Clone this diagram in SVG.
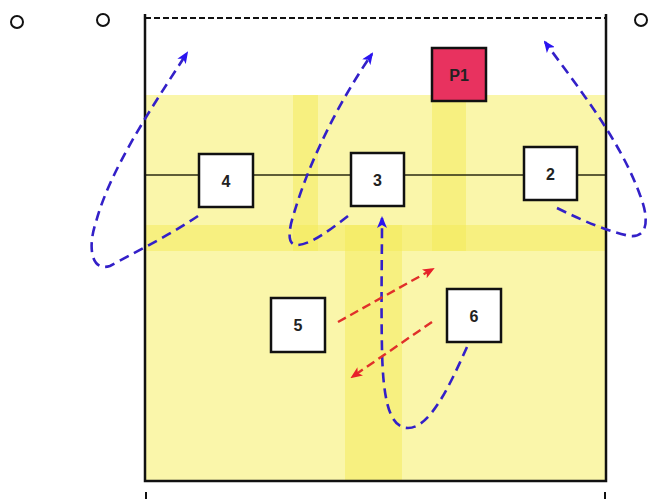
<svg xmlns="http://www.w3.org/2000/svg" width="658" height="499" viewBox="0 0 658 499">
<defs>
<style>
.node rect{fill:#fff;stroke:#111;stroke-width:2.5}
.node text{font-family:"Liberation Sans",Arial,sans-serif;font-weight:bold;font-size:16px;fill:#222;text-anchor:middle;dominant-baseline:central}
.band{fill:#F3EA55;opacity:0.5}
.blue{fill:none;stroke:#3320C8;stroke-width:2.6;stroke-dasharray:10 6}
.red{fill:none;stroke:#E0302A;stroke-width:2.4;stroke-dasharray:9 5}
.ring{fill:none;stroke:#111;stroke-width:2}
</style>
<marker id="ab" viewBox="0 0 12 10" refX="10" refY="5" markerWidth="12" markerHeight="10" markerUnits="userSpaceOnUse" orient="auto">
<path d="M0,0 L12,5 L0,10 L3,5 z" fill="#2A14F0"/>
</marker>
<marker id="ar" viewBox="0 0 12 10" refX="10" refY="5" markerWidth="12" markerHeight="10" markerUnits="userSpaceOnUse" orient="auto">
<path d="M0,0 L12,5 L0,10 L3,5 z" fill="#E8202A"/>
</marker>
</defs>
<rect width="658" height="499" fill="#fff"/>
<g id="court">
<rect x="145" y="95" width="461" height="386" fill="#FAF6AA"/>
<rect class="band" x="145" y="225" width="461" height="26"/>
<rect class="band" x="293" y="95" width="25" height="156"/>
<rect class="band" x="432" y="101" width="34" height="150"/>
<rect class="band" x="345" y="225" width="57" height="256"/>
<line x1="145" y1="175" x2="606" y2="175" stroke="#2a2a10" stroke-width="1.6"/>
<line x1="145" y1="18" x2="606" y2="18" stroke="#111" stroke-width="2" stroke-dasharray="6 3"/>
<path d="M145,14 V481 H606 V14" fill="none" stroke="#111" stroke-width="2.5"/>
<line x1="146" y1="492" x2="146" y2="499" stroke="#111" stroke-width="2"/>
<line x1="605" y1="492" x2="605" y2="499" stroke="#111" stroke-width="2"/>
<circle class="ring" cx="17" cy="22" r="6"/>
<circle class="ring" cx="103" cy="20" r="6"/>
<circle class="ring" cx="641" cy="20" r="6"/>
</g>
<g id="connectors">
<path class="blue" d="M198,216 C170,235 130,255 110,266 C90,272 88,245 96,222 C110,170 150,110 187,53" marker-end="url(#ab)"/>
<path class="blue" d="M348,216 C330,230 310,245 297,245 C285,245 290,225 295,210 C310,160 340,100 372,54" marker-end="url(#ab)"/>
<path class="blue" d="M557,208 C585,222 610,232 630,236 C650,238 648,215 640,195 C620,140 580,90 545,42" marker-end="url(#ab)"/>
<path class="blue" d="M467,347 C450,385 430,428 408,428 C388,428 383,395 382,350 C381,300 382,260 382,218" marker-end="url(#ab)"/>
<path class="red" d="M338,322 L433,269" marker-end="url(#ar)"/>
<path class="red" d="M432,322 L352,377" marker-end="url(#ar)"/>
</g>
<g id="nodeP1" class="node"><rect x="432" y="48" width="54" height="53" style="fill:#E8325F"/><text x="459" y="75">P1</text></g>
<g id="node4" class="node"><rect x="199" y="154" width="54" height="53"/><text x="226" y="181">4</text></g>
<g id="node3" class="node"><rect x="351" y="153" width="53" height="53"/><text x="377.5" y="180">3</text></g>
<g id="node2" class="node"><rect x="524" y="147" width="53" height="53"/><text x="550.5" y="174">2</text></g>
<g id="node5" class="node"><rect x="271" y="298" width="54" height="54"/><text x="298" y="325">5</text></g>
<g id="node6" class="node"><rect x="447" y="289" width="54" height="53"/><text x="474" y="316">6</text></g>
</svg>
